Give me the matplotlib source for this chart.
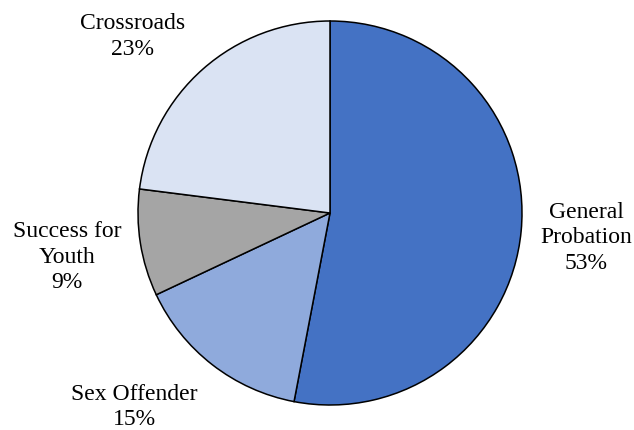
import matplotlib.pyplot as plt

# Caseload share by program
programs = ['General\nProbation', 'Sex Offender', 'Success for\nYouth', 'Crossroads']
shares = [53, 15, 9, 23]
colors = ['#4472C4', '#8FAADC', '#A5A5A5', '#DAE3F3']

plt.rcParams['font.family'] = ['Liberation Serif', 'DejaVu Serif']

W, H = 634, 430
fig = plt.figure(figsize=(W / 100, H / 100), dpi=100)
cx, cy, r = 330, 213, 192
ax = fig.add_axes([(cx - r) / W, (H - cy - r) / H, 2 * r / W, 2 * r / H])

ax.pie(shares, colors=colors, startangle=90, counterclock=False, radius=1,
       wedgeprops=dict(edgecolor='black', linewidth=1.1))
ax.set_xlim(-1, 1)
ax.set_ylim(-1, 1)
ax.set_aspect('equal')

# label placement in pie units
label_pos = [(1.335, -0.13), (-1.02, -1.01), (-1.37, -0.23), (-1.03, 0.92)]
for name, val, (x, y) in zip(programs, shares, label_pos):
    ax.text(x, y, f'{name}\n{val}%', ha='center', va='center',
            fontsize=17, linespacing=1.3, clip_on=False)

fig.savefig('out.png', dpi=100)
